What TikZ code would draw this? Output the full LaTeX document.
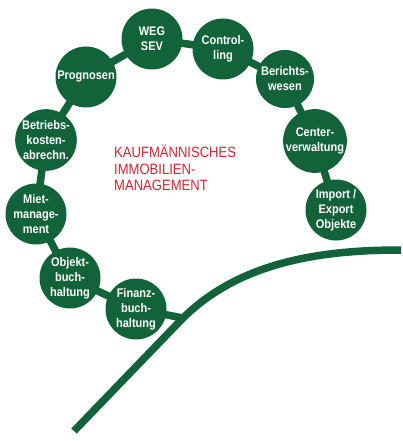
\documentclass[tikz,border=0pt]{standalone}
\usepackage{fontspec}
\setmainfont{Liberation Sans}
\newfontfamily\narrowbold[FakeStretch=0.88]{Liberation Sans Bold}
\newfontfamily\narrowreg[FakeStretch=0.87]{Liberation Sans}
\definecolor{dgreen}{RGB}{18,98,58}
\definecolor{tred}{RGB}{205,38,52}
\tikzset{
  bub/.style={circle, fill=dgreen, minimum size=61pt, inner sep=0pt, text=white,
    align=center, font=\narrowbold\fontsize{12.5}{15}\selectfont},
  link/.style={draw=dgreen, line width=7.5pt},
}
\begin{document}
\begin{tikzpicture}[x=1pt,y=-1pt]
\useasboundingbox (0,0) rectangle (402,441);
% curve
\coordinate (cs) at (74,431);
\coordinate (cm) at (183,318);
\coordinate (ce) at (401,250);
\draw[link] (cs) -- (cm) .. controls (240,262) and (320,250) .. (ce);
% links
\coordinate (w) at (152,39);
\coordinate (c) at (223,49);
\coordinate (b) at (285,79);
\coordinate (cv) at (315,141);
\coordinate (ie) at (336,210);
\coordinate (p) at (86,77);
\coordinate (bk) at (46,140);
\coordinate (m) at (36,214);
\coordinate (o) at (70,278);
\coordinate (f) at (136,309);
\draw[link] (ie) -- (cv) -- (b) -- (c) -- (w) -- (p) -- (bk) -- (m) -- (o) -- (f) -- (cm);
% bubbles
\node[bub] (nw) at (w) {WEG\\SEV};
\node[bub] (nc) at (c) {Control-\\ling};
\node[bub, minimum size=58pt] (nb) at (b) {Berichts-\\wesen};
\node[bub] (ncv) at (cv) {Center-\\verwaltung};
\node[bub] (nie) at (ie) {Import /\\Export\\Objekte};
\node[bub] (np) at (p) {Prognosen};
\node[bub] (nbk) at (bk) {Betriebs-\\kosten-\\abrechn.};
\node[bub] (nm) at (m) {Miet-\\manage-\\ment};
\node[bub] (no) at (o) {Objekt-\\buch-\\haltung};
\node[bub] (nf) at (f) {Finanz-\\buch-\\haltung};
% title
\node[anchor=north west, text=tred, align=left, inner sep=0pt,
  font=\narrowreg\fontsize{15}{16.5}\selectfont] (t) at (114,145)
  {KAUFMÄNNISCHES\\IMMOBILIEN-\\MANAGEMENT};
\end{tikzpicture}
\end{document}
